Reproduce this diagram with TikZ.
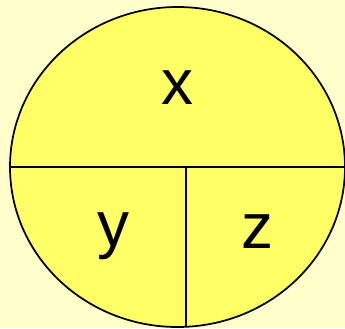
\documentclass[tikz,border=0pt]{standalone}
\usepackage{fontspec}
\setmainfont{Liberation Sans}
\definecolor{bgc}{HTML}{FFFFCC}
\definecolor{fillc}{HTML}{FFFF66}
\begin{document}
\begin{tikzpicture}[x=0.75pt,y=-0.75pt,
  lbl/.style={font=\fontsize{48}{50}\selectfont, inner sep=0pt},
  part/.style={line width=1.9pt, black}]
\fill[bgc] (0,0) rectangle (345,328);
\useasboundingbox (0,0) rectangle (345,328);
\draw[fill=fillc, line width=1.3pt] (177.5,167) ellipse [x radius=167.5, y radius=160];
\coordinate (L) at (10,167);
\coordinate (R) at (345,167);
\coordinate (M) at (186,167);
\coordinate (B) at (186,327);
\draw[part] (L) -- (R);
\draw[part] (M) -- (B);
\node[lbl] (x) at (177,88) {x};
\node[lbl] (y) at (113,236) {y};
\node[lbl] (z) at (257,232) {z};
\end{tikzpicture}
\end{document}
